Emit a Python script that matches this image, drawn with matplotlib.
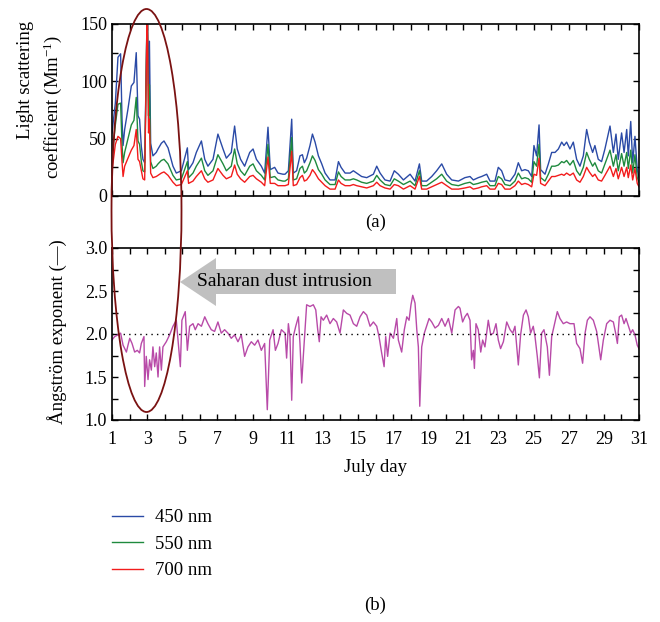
import numpy as np
import matplotlib
matplotlib.use("Agg")
import matplotlib.pyplot as plt
from matplotlib.ticker import MultipleLocator
from matplotlib.patches import Ellipse, Polygon

plt.rcParams['font.family'] = ['Liberation Serif', 'DejaVu Serif']
plt.rcParams['mathtext.default'] = 'regular'

# Light scattering coefficient (Mm^-1)
days = [1.00, 1.19, 1.34, 1.49, 1.57, 1.63, 1.72, 1.91, 2.10, 2.25, 2.38, 2.48, 2.57, 2.67,
        2.76, 2.86, 2.99, 3.02, 3.08, 3.13, 3.20, 3.33, 3.52, 3.62, 3.81, 3.96, 4.19, 4.47,
        4.66, 4.95, 5.29, 5.36, 5.61, 5.80, 6.09, 6.28, 6.46, 6.75, 7.03, 7.32, 7.51, 7.79,
        7.98, 8.13, 8.32, 8.55, 8.84, 9.03, 9.22, 9.50, 9.69, 9.88, 10.01, 10.26, 10.45, 10.73,
        10.85, 11.04, 11.23, 11.32, 11.51, 11.70, 11.84, 11.95, 12.08, 12.27, 12.41, 12.56, 12.75, 12.94,
        13.13, 13.41, 13.70, 13.89, 14.04, 14.27, 14.55, 14.74, 14.93, 15.21, 15.50, 15.88, 16.07, 16.26,
        16.54, 16.83, 17.07, 17.30, 17.59, 17.97, 18.25, 18.50, 18.63, 18.91, 19.20, 19.48, 19.77, 20.05,
        20.34, 20.72, 21.09, 21.38, 21.57, 21.85, 22.04, 22.33, 22.52, 22.80, 22.99, 23.18, 23.37, 23.66,
        23.94, 24.13, 24.32, 24.51, 24.70, 24.89, 25.02, 25.17, 25.31, 25.40, 25.65, 25.84, 26.03, 26.22,
        26.41, 26.60, 26.73, 26.88, 27.07, 27.26, 27.45, 27.64, 27.83, 28.02, 28.17, 28.36, 28.49, 28.68,
        28.87, 29.06, 29.35, 29.54, 29.69, 29.82, 30.01, 30.15, 30.30, 30.39, 30.53, 30.64, 30.77, 30.90,
        31.00]
b450 = [55, 81, 121, 124, 67, 44, 58, 76, 96, 99, 125, 70, 67, 43,
        32, 29, 152, 152, 96, 135, 46, 35, 38, 41, 46, 48, 42, 26,
        20, 22, 42, 23, 29, 38, 48, 32, 26, 32, 54, 41, 33, 38,
        61, 41, 32, 26, 38, 41, 32, 26, 20, 60, 23, 25, 20, 19,
        19, 22, 67, 20, 22, 35, 36, 29, 33, 44, 54, 47, 35, 28,
        20, 14, 14, 30, 25, 20, 20, 22, 20, 17, 16, 19, 26, 20,
        14, 13, 22, 19, 14, 19, 13, 28, 13, 13, 17, 22, 28, 19,
        14, 13, 16, 17, 14, 16, 17, 19, 13, 13, 25, 22, 14, 13,
        19, 29, 22, 23, 22, 17, 44, 35, 62, 23, 19, 28, 38, 38,
        41, 47, 44, 47, 41, 47, 32, 26, 35, 58, 47, 38, 44, 32,
        30, 41, 61, 38, 54, 32, 55, 38, 58, 35, 65, 29, 52, 23,
        16]
g550 = [34, 62, 80, 81, 45, 29, 38, 50, 62, 66, 86, 48, 45, 30,
        22, 21, 152, 152, 70, 97, 30, 24, 26, 28, 31, 32, 28, 18,
        14, 15, 30, 16, 20, 26, 33, 22, 18, 22, 36, 28, 22, 26,
        41, 28, 22, 18, 26, 28, 22, 18, 14, 45, 16, 17, 14, 13,
        13, 15, 51, 14, 15, 24, 26, 20, 22, 29, 35, 31, 23, 19,
        14, 10, 10, 21, 17, 14, 14, 15, 14, 12, 11, 13, 18, 14,
        10, 9, 15, 13, 10, 13, 9, 22, 9, 9, 12, 15, 19, 13,
        10, 9, 11, 12, 10, 11, 12, 13, 9, 9, 17, 15, 10, 9,
        13, 20, 15, 16, 15, 12, 30, 26, 45, 16, 13, 19, 26, 26,
        27, 30, 29, 31, 27, 31, 22, 18, 25, 38, 32, 26, 29, 22,
        20, 28, 40, 26, 36, 22, 37, 26, 38, 24, 40, 20, 36, 16,
        12]
r700 = [22, 45, 52, 50, 30, 17, 26, 33, 40, 44, 58, 32, 30, 22,
        15, 14, 150, 150, 55, 67, 20, 16, 17, 18, 20, 21, 18, 12,
        9, 10, 22, 11, 13, 17, 22, 15, 12, 14, 24, 18, 15, 17,
        27, 19, 15, 12, 17, 18, 15, 12, 9, 34, 11, 11, 9, 9,
        9, 10, 39, 9, 10, 16, 18, 13, 14, 18, 23, 20, 15, 12,
        9, 6, 6, 14, 11, 9, 9, 10, 9, 8, 7, 9, 12, 9,
        7, 6, 10, 9, 6, 9, 6, 17, 6, 6, 8, 10, 12, 9,
        6, 6, 7, 8, 6, 7, 8, 9, 6, 6, 11, 10, 6, 6,
        9, 13, 10, 11, 10, 8, 19, 18, 33, 11, 9, 13, 17, 17,
        18, 19, 18, 20, 18, 20, 14, 12, 17, 25, 21, 17, 19, 14,
        13, 18, 26, 17, 24, 15, 25, 17, 25, 16, 27, 14, 24, 11,
        8]

# Angstrom exponent
a_days = [1.00, 1.15, 1.34, 1.49, 1.63, 1.82, 1.91, 2.01, 2.14, 2.29, 2.44, 2.57, 2.67, 2.82,
          2.86, 2.95, 3.05, 3.14, 3.24, 3.33, 3.43, 3.52, 3.62, 3.71, 3.81, 3.90, 4.09, 4.28,
          4.47, 4.66, 4.76, 4.89, 4.98, 5.17, 5.29, 5.42, 5.61, 5.74, 5.90, 6.09, 6.28, 6.46,
          6.65, 6.84, 7.03, 7.22, 7.41, 7.60, 7.79, 7.98, 8.17, 8.36, 8.55, 8.74, 8.93, 9.12,
          9.31, 9.50, 9.69, 9.84, 9.98, 10.17, 10.30, 10.45, 10.64, 10.85, 10.94, 11.04, 11.13, 11.23,
          11.32, 11.46, 11.61, 11.70, 11.80, 11.89, 11.99, 12.08, 12.27, 12.46, 12.60, 12.71, 12.80, 12.90,
          13.03, 13.22, 13.41, 13.60, 13.79, 13.98, 14.17, 14.36, 14.55, 14.74, 14.93, 15.12, 15.31, 15.50,
          15.69, 15.88, 16.07, 16.20, 16.35, 16.49, 16.58, 16.69, 16.83, 17.02, 17.21, 17.30, 17.49, 17.64,
          17.78, 17.91, 18.02, 18.12, 18.25, 18.35, 18.44, 18.52, 18.63, 18.78, 18.91, 19.05, 19.20, 19.39,
          19.58, 19.77, 19.96, 20.15, 20.34, 20.53, 20.72, 20.81, 20.96, 21.09, 21.23, 21.38, 21.47, 21.57,
          21.63, 21.72, 21.85, 21.99, 22.10, 22.23, 22.42, 22.56, 22.71, 22.86, 22.99, 23.12, 23.28, 23.47,
          23.66, 23.81, 23.94, 24.13, 24.26, 24.42, 24.57, 24.70, 24.83, 24.98, 25.08, 25.21, 25.33, 25.46,
          25.59, 25.78, 25.90, 26.03, 26.22, 26.35, 26.50, 26.69, 26.88, 27.07, 27.30, 27.45, 27.64, 27.79,
          27.93, 28.06, 28.21, 28.40, 28.59, 28.82, 28.97, 29.16, 29.35, 29.54, 29.67, 29.77, 29.88, 30.01,
          30.15, 30.26, 30.39, 30.53, 30.64, 30.77, 30.90, 31.00]
angstrom = [1.93, 1.97, 1.99, 2.01, 1.87, 1.79, 1.87, 1.95, 1.89, 1.79, 1.81, 1.78, 1.89, 1.97,
            1.39, 1.74, 1.47, 1.70, 1.58, 1.85, 1.62, 1.78, 1.50, 1.85, 1.58, 1.85, 1.91, 1.99,
            2.09, 2.16, 1.93, 1.62, 2.16, 2.26, 1.81, 2.09, 2.12, 2.05, 2.12, 2.09, 2.20, 2.12,
            2.05, 2.03, 2.14, 2.01, 2.05, 2.01, 1.95, 1.99, 1.91, 1.99, 1.74, 1.85, 1.91, 1.87,
            1.93, 1.81, 1.89, 1.12, 1.93, 2.05, 1.81, 1.89, 2.05, 2.01, 1.72, 2.12, 1.97, 1.23,
            1.97, 2.09, 2.20, 1.89, 1.43, 1.74, 2.05, 2.34, 2.32, 2.34, 2.28, 2.05, 1.91, 2.20,
            2.16, 2.22, 2.12, 2.18, 2.14, 2.01, 2.28, 2.24, 2.22, 2.12, 2.09, 2.20, 2.26, 2.22,
            2.09, 2.14, 2.09, 1.97, 1.78, 1.62, 1.97, 1.74, 2.01, 1.95, 2.18, 1.93, 1.79, 2.05,
            2.20, 2.16, 2.34, 2.45, 2.36, 2.05, 1.85, 1.16, 1.85, 2.01, 2.09, 2.18, 2.14, 2.07,
            2.10, 2.18, 2.09, 2.18, 2.01, 2.28, 2.32, 2.30, 2.14, 2.20, 2.24, 2.16, 1.70, 1.81,
            1.60, 2.12, 2.05, 1.79, 1.93, 1.85, 2.16, 1.99, 2.01, 2.12, 1.93, 1.83, 1.91, 2.14,
            2.05, 2.01, 2.09, 1.64, 1.99, 2.22, 2.28, 2.20, 2.01, 2.09, 1.97, 1.74, 1.49, 2.01,
            2.05, 1.85, 1.52, 1.97, 2.14, 2.26, 2.18, 2.12, 2.14, 2.12, 2.12, 1.89, 1.83, 1.66,
            2.01, 2.16, 2.20, 2.16, 2.03, 1.70, 1.93, 2.12, 2.16, 2.14, 2.01, 1.89, 2.20, 2.22,
            2.12, 2.18, 2.10, 2.01, 2.05, 1.99, 1.87, 1.83]

W, H = 660, 622
fig = plt.figure(figsize=(6.6, 6.22), dpi=100)

def fx(px):
    return px / W

def fy(py):
    return 1 - py / H

ax1 = fig.add_axes([fx(112), fy(196), fx(639) - fx(112), fy(24) - fy(196)])
ax2 = fig.add_axes([fx(112), fy(420), fx(639) - fx(112), fy(248) - fy(420)])

ax1.plot(days, b450, color='#2a4aa6', lw=1.0, label='450 nm')
ax1.plot(days, g550, color='#1f8a3e', lw=1.0, label='550 nm')
ax1.plot(days, r700, color='#f21c1c', lw=1.0, label='700 nm')
ax1.set_ylim(0, 150)
ax1.set_yticks([0, 50, 100, 150])
ax1.yaxis.set_minor_locator(MultipleLocator(25))

ax2.plot(a_days, angstrom, color='#b84aa8', lw=1.0)
ax2.axhline(2.0, color='black', lw=1.0, ls=(0, (1, 3)))
ax2.set_ylim(1.0, 3.0)
ax2.set_yticks([1.0, 1.5, 2.0, 2.5, 3.0])
ax2.set_yticklabels(['1.0', '1.5', '2.0', '2.5', '3.0'])
ax2.yaxis.set_minor_locator(MultipleLocator(0.25))

for ax in (ax1, ax2):
    ax.set_xlim(1, 31)
    ax.set_xticks(range(1, 32, 2))
    ax.xaxis.set_minor_locator(MultipleLocator(1))
    ax.tick_params(which='both', direction='in', top=True, right=True, length=4, width=1,
                   labelsize=13)
    for s in ax.spines.values():
        s.set_linewidth(1.2)
ax1.tick_params(labelbottom=False)
ax2.tick_params(axis='x', pad=8)

fig.text(fx(26), fy(80), 'Light scattering', rotation=90, ha='center', va='center', fontsize=13.5)
fig.text(fx(53), fy(107), 'coefficient (Mm$^{-1}$)', rotation=90, ha='center', va='center', fontsize=13.5)
fig.text(fx(57), fy(332), 'Ångström exponent (—)', rotation=90, ha='center', va='center', fontsize=13.5)

fig.text(fx(376), fy(222), '(a)', ha='center', va='center', fontsize=13.5)
fig.text(fx(375), fy(467), 'July day', ha='center', va='center', fontsize=13.5)
fig.text(fx(375), fy(605), '(b)', ha='center', va='center', fontsize=13.5)

# annotation arrow
arrow = Polygon([(fx(180), fy(282)), (fx(216), fy(258)), (fx(216), fy(269)), (fx(396), fy(269)),
                 (fx(396), fy(294)), (fx(216), fy(294)), (fx(216), fy(306))],
                closed=True, transform=fig.transFigure, facecolor='#c0c0c0', edgecolor='none')
fig.patches.append(arrow)
fig.text(fx(197), fy(282), 'Saharan dust intrusion', ha='left', va='center', fontsize=14)

ell = Ellipse((fx(146.5), fy(210.5)), fx(70), 403 / H, transform=fig.transFigure,
              facecolor='none', edgecolor='#7a1212', lw=1.3)
fig.patches.append(ell)

handles, labels = ax1.get_legend_handles_labels()
fig.legend(handles, labels, loc='upper left', bbox_to_anchor=(fx(112), fy(509)),
           frameon=False, fontsize=13.5, handlelength=1.65, handletextpad=0.65,
           labelspacing=0.5, borderpad=0, borderaxespad=0)

fig.savefig('out.png', dpi=100)
